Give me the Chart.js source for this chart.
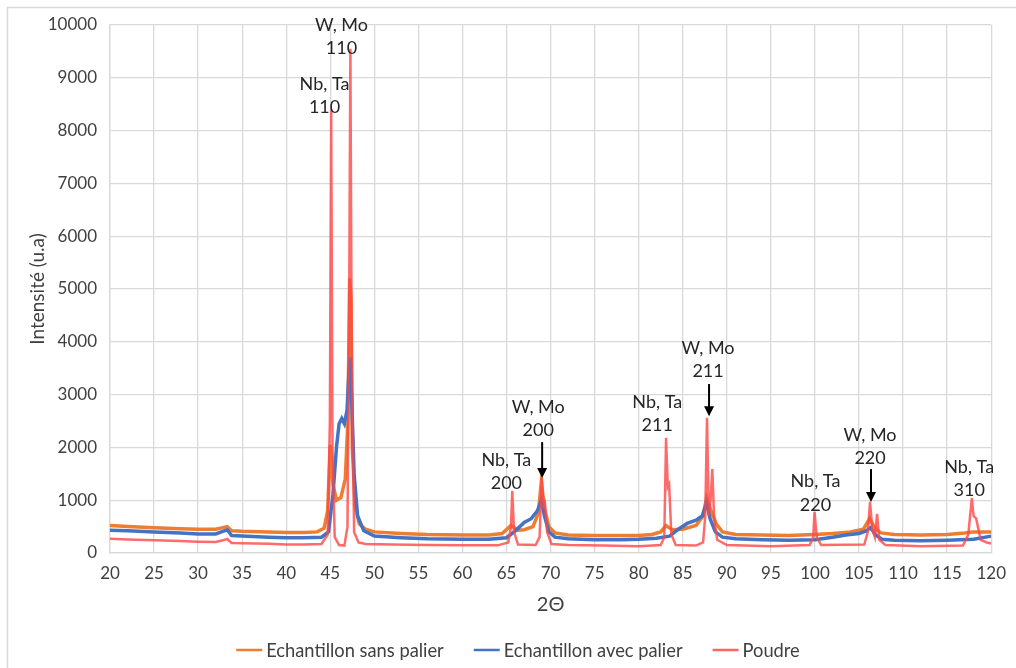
<!DOCTYPE html>
<html>
<head>
<meta charset="utf-8">
<script src="https://cdn.jsdelivr.net/npm/chart.js@4/dist/chart.umd.min.js"></script>
<style>
html,body{margin:0;padding:0;background:#fff;}
#wrap{width:1016px;height:668px;position:relative;}
</style>
</head>
<body>
<div id="wrap"><canvas id="c"></canvas></div>
<script>
// ---- data ----
const seriesNames = ["Echantillon sans palier", "Echantillon avec palier", "Poudre"];

const sansPalierTheta = [20,22,25,28,30,32,32.8,33.3,33.8,35,38,40,42,43.5,44.3,44.7,45.0,45.3,45.7,46.2,46.7,47.0,47.2,47.35,47.5,47.8,48.3,49,50,53,56,60,63,64.5,65.5,66.3,67,68,68.6,68.95,69.3,69.8,70.5,72,75,78,80,81.5,82.5,83.1,83.8,85,86.5,87.3,87.7,88.2,88.8,89.5,91,94,97,100,102,104,105.5,106.2,106.9,107.5,109,112,115,117,118,120];
const sansPalierInt   = [520,500,480,460,450,450,480,500,420,410,400,390,390,400,470,800,2050,1300,1000,1050,1400,2500,5200,4800,2000,900,550,450,400,370,350,340,340,370,520,430,440,500,750,1350,850,500,380,340,330,330,330,350,400,520,440,450,520,700,1050,800,550,400,350,340,330,350,370,400,450,650,450,380,350,340,350,380,400,400];

const avecPalierTheta = [20,22,25,28,30,32,32.8,33.3,33.8,35,38,40,42,44,44.8,45.3,45.7,46.0,46.3,46.6,46.9,47.1,47.25,47.45,47.7,48.1,48.8,50,53,56,60,63,65,66,67,67.8,68.5,68.95,69.3,69.8,70.5,72,75,78,80,82,83.5,84.5,85.5,86.5,87.2,87.7,88.1,88.7,89.5,91,94,97,100,102,103.5,105,105.8,106.3,106.9,107.6,109,112,115,118,120];
const avecPalierInt   = [430,420,400,380,360,360,410,440,330,320,300,290,290,300,400,1100,2000,2450,2550,2450,2700,3400,3700,2800,1500,700,420,320,290,270,260,260,290,420,580,650,800,1000,700,400,300,270,250,250,260,280,320,450,560,620,700,950,650,400,300,270,250,240,250,300,340,370,420,480,340,260,240,230,240,260,320];

const poudreTheta = [20,22,25,28,30,32,32.8,33.3,33.8,35,38,40,42,44,44.7,44.95,45.1,45.25,45.5,46.0,46.6,46.95,47.15,47.28,47.42,47.7,48.2,49,52,56,60,64,65.2,65.5,65.65,65.85,66.3,68.3,68.75,69.0,69.2,69.35,69.6,70.1,72,76,80,82.5,82.9,83.1,83.3,83.45,83.7,84.2,86.5,87.3,87.55,87.75,87.95,88.15,88.35,88.55,88.9,90,95,99.4,99.8,99.95,100.2,100.7,105.6,106.0,106.25,106.5,106.8,107.05,107.3,108,112,116.8,117.4,117.8,118.0,118.3,118.8,119.5,120];
const poudreInt   = [270,255,240,225,215,210,240,265,190,185,175,160,160,170,350,2500,8400,2000,300,150,140,500,5000,9550,4000,400,200,170,160,150,145,145,200,500,1180,400,160,150,300,1420,900,950,400,170,150,140,130,150,300,2180,1250,1300,350,150,140,200,700,2560,700,1000,1590,700,250,150,130,150,300,780,300,150,160,400,970,450,300,740,250,150,130,140,350,1040,700,650,250,200,180];

const xTickMin = 20, xTickMax = 120, xTickStep = 5;
const yTickMin = 0, yTickMax = 10000, yTickStep = 1000;

// peak labels
const peakLabelTop    = ["W, Mo","Nb, Ta","Nb, Ta","W, Mo","Nb, Ta","W, Mo","Nb, Ta","W, Mo","Nb, Ta"];
const peakLabelBottom = ["110","110","200","200","211","211","220","220","310"];
const peakLabelTheta  = [46.27,44.35,64.98,68.6,82.1,87.87,100.05,106.25,117.5];
const peakLabelInt    = [10000,8880,1760,2765,2860,3880,1360,2235,1630];
const arrowTheta = [null,null,null,69.04,null,87.98,null,106.36,null];
const arrowFrom  = [null,null,null,2100,null,3200,null,1590,null];
const arrowTo    = [null,null,null,1420,null,2590,null,965,null];

function zip(xs, ys){ return xs.map((x,i)=>({x:x, y:ys[i]})); }

const FONT = "Lato, 'Open Sans', sans-serif";

const extras = {
  id:'extras',
  beforeDraw(chart){
    const ctx = chart.ctx;
    ctx.save();
    ctx.fillStyle = '#fff';
    ctx.fillRect(0,0,chart.width,chart.height);
    ctx.strokeStyle = '#d9d9d9';
    ctx.lineWidth = 1.5;
    ctx.beginPath();
    ctx.moveTo(7.5, chart.height); ctx.lineTo(7.5, 7.5); ctx.lineTo(chart.width, 7.5);
    ctx.stroke();
    ctx.restore();
  },
  afterDatasetsDraw(chart){
    const ctx = chart.ctx, xs = chart.scales.x, ys = chart.scales.y;
    ctx.save();
    ctx.font = '18px ' + FONT;
    ctx.fillStyle = '#262626';
    ctx.textAlign = 'center';
    ctx.textBaseline = 'middle';
    for (let i=0;i<peakLabelTop.length;i++){
      const px = xs.getPixelForValue(peakLabelTheta[i]);
      const py = ys.getPixelForValue(peakLabelInt[i]);
      ctx.fillText(peakLabelTop[i], px, py);
      ctx.fillText(peakLabelBottom[i], px, py + 23.5);
      if (arrowTheta[i] !== null){
        const ax = xs.getPixelForValue(arrowTheta[i]);
        const a1 = ys.getPixelForValue(arrowFrom[i]);
        const a2 = ys.getPixelForValue(arrowTo[i]);
        ctx.strokeStyle = '#000'; ctx.fillStyle = '#000'; ctx.lineWidth = 2;
        ctx.beginPath(); ctx.moveTo(ax, a1); ctx.lineTo(ax, a2 - 8); ctx.stroke();
        ctx.beginPath(); ctx.moveTo(ax-5, a2-10); ctx.lineTo(ax+5, a2-10); ctx.lineTo(ax, a2); ctx.closePath(); ctx.fill();
        ctx.fillStyle = '#262626';
      }
    }
    ctx.restore();
  },
  afterDraw(chart){
    const ctx = chart.ctx;
    const colors = chart.data.datasets.map(d=>d.legendColor);
    ctx.save();
    ctx.font = '18.3px ' + FONT;
    ctx.textBaseline = 'middle';
    ctx.textAlign = 'left';
    const lineW = 26, gapLT = 4, gapItems = 30;
    const widths = seriesNames.map(n=>ctx.measureText(n).width);
    let total = 0;
    widths.forEach((w,i)=>{ total += lineW + gapLT + w + (i<widths.length-1?gapItems:0); });
    let x = 518 - total/2;
    const y = 650;
    seriesNames.forEach((n,i)=>{
      ctx.strokeStyle = colors[i]; ctx.lineWidth = 2.5;
      ctx.beginPath(); ctx.moveTo(x, y); ctx.lineTo(x+lineW, y); ctx.stroke();
      ctx.fillStyle = '#404040';
      ctx.fillText(n, x + lineW + gapLT, y + 1);
      x += lineW + gapLT + widths[i] + gapItems;
    });
    ctx.restore();
  }
};

new Chart(document.getElementById('c'), {
  type:'line',
  data:{
    datasets:[
      {label:seriesNames[0], data:zip(sansPalierTheta,sansPalierInt), borderColor:'#ED7D31', legendColor:'#ED7D31', borderWidth:3.5, pointRadius:0, tension:0, order:3},
      {label:seriesNames[1], data:zip(avecPalierTheta,avecPalierInt), borderColor:'#4472C4', legendColor:'#4472C4', borderWidth:3.5, pointRadius:0, tension:0, order:2},
      {label:seriesNames[2], data:zip(poudreTheta,poudreInt), borderColor:'rgba(255,70,70,0.8)', legendColor:'#FF6464', borderWidth:2.5, pointRadius:0, tension:0, order:1}
    ]
  },
  options:{
    responsive:true, maintainAspectRatio:false, animation:false,
    layout:{padding:{left:0,right:18,top:25,bottom:40}},
    plugins:{legend:{display:false}, tooltip:{enabled:false}},
    scales:{
      x:{type:'linear', min:xTickMin, max:xTickMax,
         ticks:{stepSize:xTickStep, font:{family:FONT,size:17}, color:'#404040', padding:10, maxRotation:0,
                callback:(v)=>String(v)},
         grid:{color:'#d9d9d9', drawTicks:false, lineWidth:1.3},
         border:{color:'#d9d9d9', width:1.3},
         title:{display:true, text:'2Θ', font:{family:FONT,size:20}, color:'#404040', padding:{top:4,bottom:11}},
         afterFit(s){ s.height = 75; }
      },
      y:{min:yTickMin, max:yTickMax,
         ticks:{stepSize:yTickStep, font:{family:FONT,size:17}, color:'#404040', padding:13,
                callback:(v)=>String(v)},
         grid:{color:'#d9d9d9', drawTicks:false, lineWidth:1.3},
         border:{color:'#d9d9d9', width:1.3},
         title:{display:true, text:'Intensité (u.a)', font:{family:FONT,size:19}, color:'#404040', padding:{top:26,bottom:4}},
         afterFit(s){ s.width = 110; }
      }
    }
  },
  plugins:[extras]
});
</script>
</body>
</html>
